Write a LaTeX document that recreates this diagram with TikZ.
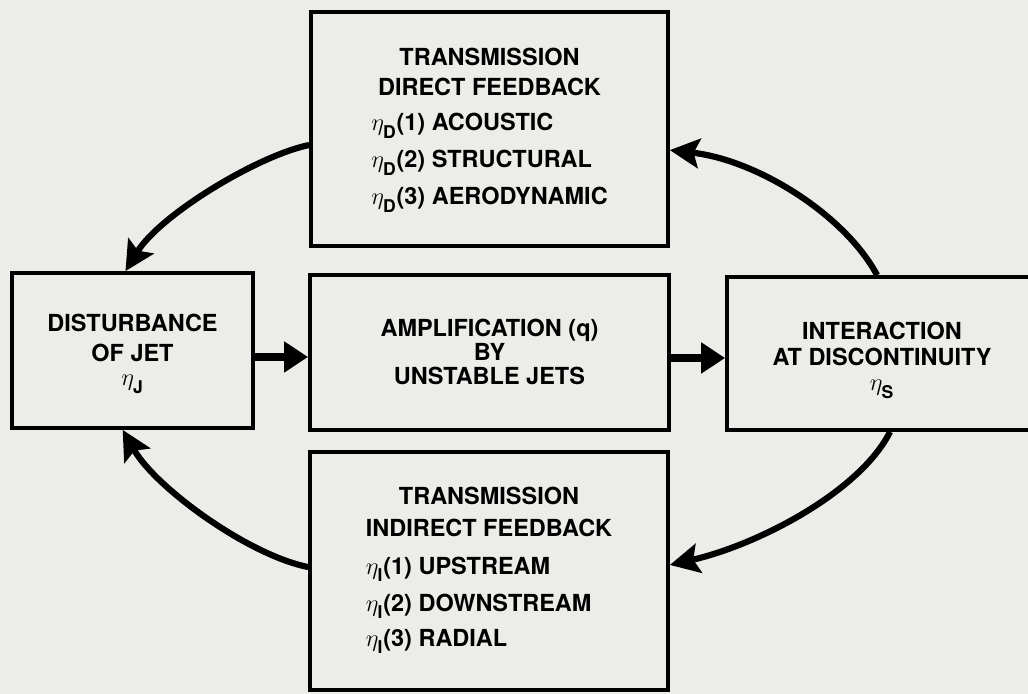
\documentclass[tikz,border=0pt]{standalone}
\usepackage{amsmath}
\usepackage{fontspec}
\setmainfont{TeX Gyre Heros}
\usetikzlibrary{arrows.meta}
\definecolor{paper}{RGB}{236,236,233}
\tikzset{
  box/.style={draw=black, line width=2.6pt, fill=paper, inner sep=0pt,
    font=\bfseries\fontsize{16.7}{21.3}\selectfont},
  flow/.style={line width=5.5pt, -{Triangle[length=17pt,width=21pt]}},
  loopback/.style={line width=4.4pt, -{Stealth[length=21pt,width=21pt,inset=4pt]}},
}
\newcommand{\etasub}[1]{{\fontsize{19}{19}\selectfont$\eta$}\kern-0.5pt\raisebox{-5.5pt}{\fontsize{12.5}{12.5}\selectfont #1}\kern0.5pt}
\begin{document}
\begin{tikzpicture}[x=0.025cm,y=-0.025cm]
\clip (0,0) rectangle (1028,694);
\fill[paper] (0,0) rectangle (1028,694);

% top box: direct feedback
\node[box, minimum width=253.9pt, minimum height=166.4pt] (td) at (489.5,129) {%
  \begin{tabular}{@{}l@{}}
  \multicolumn{1}{@{}c@{}}{TRANSMISSION}\\
  \multicolumn{1}{@{}c@{}}{DIRECT FEEDBACK}\\[3.6pt]
  \etasub{D}(1) ACOUSTIC\\[5pt]
  \etasub{D}(2) STRUCTURAL\\[5pt]
  \etasub{D}(3) AERODYNAMIC
  \end{tabular}};

% left box: disturbance
\node[box, minimum width=171.4pt, minimum height=110.3pt] (dist) at (132.5,350.5) {%
  \raisebox{-1.5pt}[\height][\depth]{%
  \begin{tabular}{@{}c@{}}
  DISTURBANCE\\
  OF JET\\[-4pt]
  \etasub{J}
  \end{tabular}}};

% middle box: amplification
\node[box, minimum width=255.4pt, minimum height=110.3pt] (amp) at (489.5,352.5) {%
  \raisebox{-2pt}[\height][\depth]{\fontsize{16.7}{16}\selectfont
  \begin{tabular}{@{}c@{}}
  AMPLIFICATION (q)\\
  BY\\
  UNSTABLE JETS
  \end{tabular}}};

% right box: interaction
\node[box, minimum width=220.5pt, minimum height=108.8pt] (inter) at (882,353.5) {%
  \raisebox{-4.5pt}[\height][\depth]{\fontsize{16.7}{18.5}\selectfont
  \begin{tabular}{@{}c@{}}
  INTERACTION\\
  AT DISCONTINUITY\\[-0.5pt]
  \etasub{S}
  \end{tabular}}};

% bottom box: indirect feedback
\node[box, minimum width=254.6pt, minimum height=169.3pt] (bl) at (489,571) {%
  \raisebox{1.5pt}[\height][\depth]{\fontsize{16.7}{22.8}\selectfont
  \begin{tabular}{@{}l@{}}
  \multicolumn{1}{@{}c@{}}{TRANSMISSION}\\
  \multicolumn{1}{@{}c@{}}{INDIRECT FEEDBACK}\\[4pt]
  \etasub{I}(1) UPSTREAM\\[3.5pt]
  \etasub{I}(2) DOWNSTREAM\\[2pt]
  \etasub{I}(3) RADIAL
  \end{tabular}}};

% straight arrows
\coordinate (a1) at ([yshift=-4.6pt]dist.east);
\coordinate (a2) at ([yshift=-3.9pt]amp.east);
\draw[flow] (a1) -- (a1 -| amp.west);
\draw[flow] (a2) -- (a2 -| inter.west);

% feedback loops
\draw[loopback] ([xshift=-3.5pt]inter.north) .. controls +(-32,-60) and +(88,10) .. ([yshift=-15pt]td.east);
\draw[loopback] ([yshift=-11.4pt]td.west) .. controls +(-50,10) and +(35,-57) .. ([xshift=-5pt]dist.north);
\draw[loopback] ([xshift=5.7pt]inter.south) .. controls +(-30,60) and +(88,-20) .. ([yshift=4.3pt]bl.east);
\draw[loopback] ([yshift=2.8pt]bl.west) .. controls +(-60,-12) and +(33,58) .. ([xshift=-7pt]dist.south);
\end{tikzpicture}
\end{document}
